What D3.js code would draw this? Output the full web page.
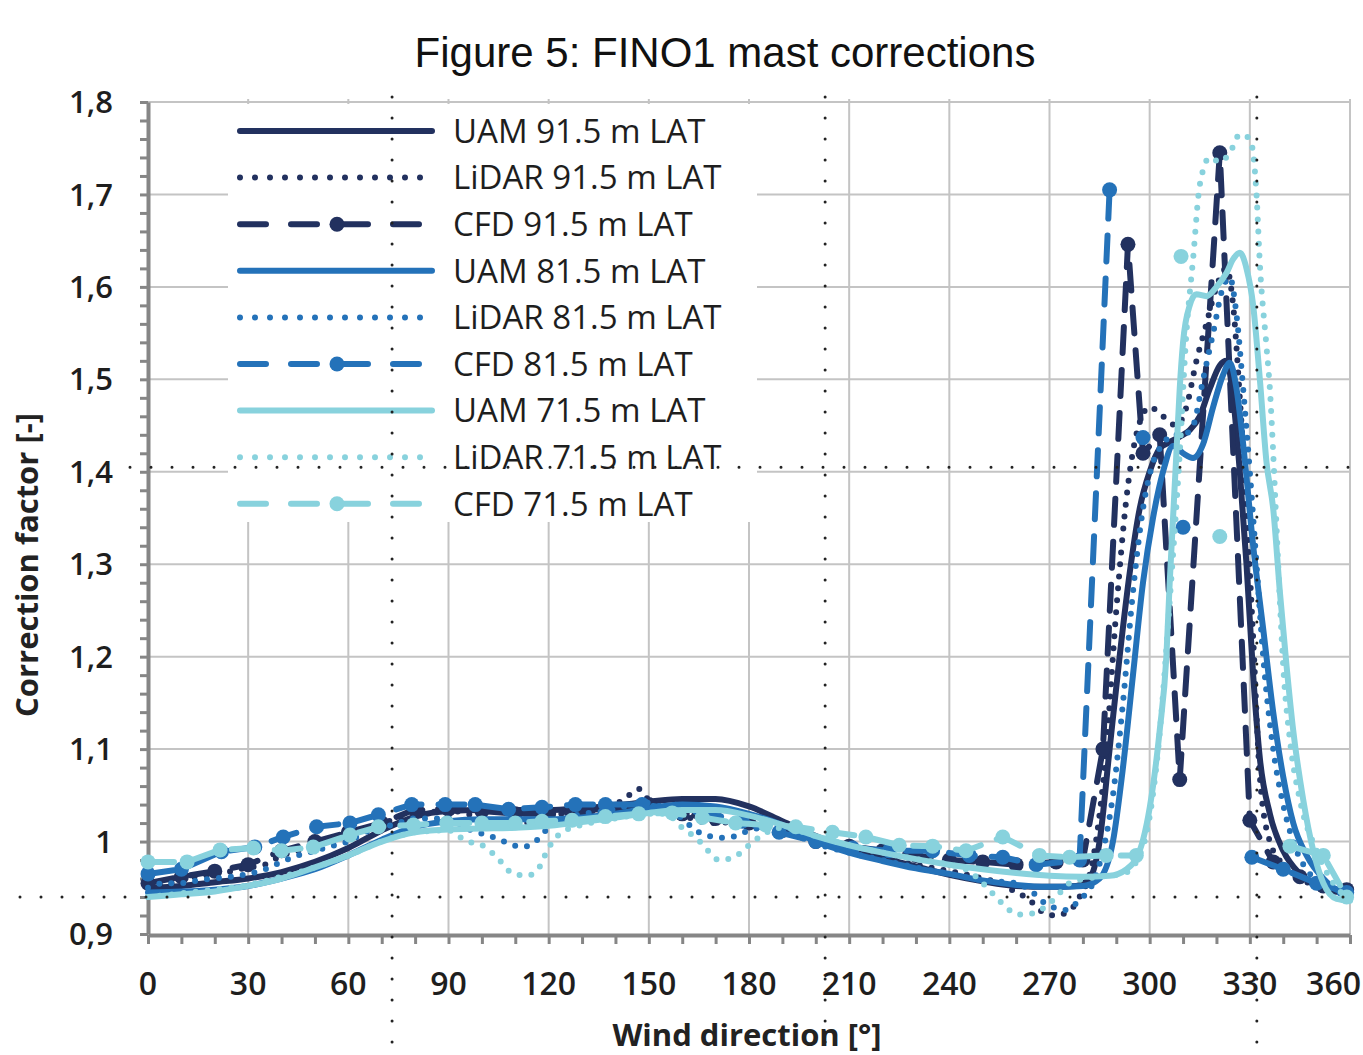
<!DOCTYPE html>
<html>
<head>
<meta charset="utf-8">
<script src="https://cdn.jsdelivr.net/npm/d3@7"></script>
<style>
  body { margin: 0; background: #fff; }
  svg { display: block; }
</style>
</head>
<body>
<svg width="1363" height="1055"></svg>
<script>

// ---- data ----
const xTickValues = [0, 30, 60, 90, 120, 150, 180, 210, 240, 270, 300, 330, 360];
const yTickValues = [0.9, 1.0, 1.1, 1.2, 1.3, 1.4, 1.5, 1.6, 1.7, 1.8];
const yTickLabels = ['0,9', '1', '1,1', '1,2', '1,3', '1,4', '1,5', '1,6', '1,7', '1,8'];

const seriesNames = ['UAM 91.5 m LAT', 'LiDAR 91.5 m LAT', 'CFD 91.5 m LAT',
                     'UAM 81.5 m LAT', 'LiDAR 81.5 m LAT', 'CFD 81.5 m LAT',
                     'UAM 71.5 m LAT', 'LiDAR 71.5 m LAT', 'CFD 71.5 m LAT'];

const uam915 = [[0,0.95],[10,0.952],[20,0.956],[30,0.96],[40,0.967],[50,0.978],[60,0.993],[70,1.012],[80,1.027],[90,1.033],[100,1.034],[110,1.034],[120,1.034],[130,1.036],[140,1.039],[150,1.043],[160,1.046],[170,1.046],[180,1.038],[190,1.022],[200,1.006],[210,0.992],[220,0.982],[230,0.973],[240,0.964],[250,0.957],[260,0.952],[270,0.951],[278,0.952],[282,0.96],[285,1.0],[288,1.1],[291,1.2],[294,1.29],[297,1.36],[300,1.4],[303,1.425],[306,1.432],[309,1.438],[312,1.445],[315,1.46],[318,1.49],[321,1.515],[323,1.52],[325,1.48],[327,1.4],[329,1.3],[331,1.18],[333,1.09],[336,1.03],[340,0.99],[345,0.965],[350,0.952],[355,0.946],[360,0.945]];

const lidar915 = [[0,0.955],[5,0.953],[10,0.96],[15,0.962],[20,0.965],[25,0.968],[30,0.972],[35,0.975],[40,0.985],[45,0.99],[50,0.995],[55,1.0],[60,1.005],[65,1.012],[70,1.02],[75,1.025],[80,1.035],[85,1.032],[90,1.035],[95,1.03],[100,1.028],[105,1.02],[110,1.018],[115,1.022],[120,1.03],[125,1.03],[130,1.033],[135,1.035],[140,1.04],[144,1.05],[147,1.057],[150,1.045],[155,1.04],[160,1.03],[165,1.022],[170,1.02],[175,1.022],[180,1.028],[185,1.025],[190,1.015],[195,1.01],[200,1.0],[210,0.99],[220,0.982],[230,0.975],[240,0.968],[250,0.96],[255,0.955],[260,0.945],[264,0.937],[267,0.926],[271.5,0.92],[275.5,0.924],[279,0.94],[283,0.98],[287,1.1],[290,1.25],[293,1.37],[296,1.44],[300,1.47],[304,1.46],[308,1.45],[311,1.47],[314,1.52],[317,1.56],[320,1.6],[323,1.62],[325,1.58],[327,1.48],[329,1.36],[331,1.22],[333,1.07],[336,1.0],[340,0.975],[345,0.96],[350,0.952],[355,0.947],[360,0.945]];

const cfd915 = [[0,0.955],[10,0.962],[20,0.968],[30,0.975],[40,0.99],[50,1.0],[60,1.01],[70,1.02],[80,1.035],[90,1.035],[100,1.033],[110,1.03],[120,1.03],[130,1.032],[140,1.035],[150,1.04],[160,1.03],[170,1.025],[180,1.02],[190,1.012],[200,1.0],[210,0.995],[220,0.99],[230,0.985],[240,0.98],[250,0.978],[260,0.975],[272,0.978],[280,0.98],[286,1.1],[293.5,1.646],[298,1.42],[303,1.44],[309,1.067],[321,1.745],[330,1.023],[337,0.978],[345,0.962],[352,0.952],[359,0.948]];

const uam815 = [[0,0.945],[10,0.946],[20,0.948],[30,0.952],[40,0.96],[50,0.97],[60,0.985],[70,1.002],[80,1.016],[90,1.022],[100,1.024],[110,1.024],[120,1.024],[130,1.026],[140,1.03],[150,1.036],[160,1.04],[170,1.038],[180,1.03],[190,1.018],[200,1.0],[210,0.988],[220,0.979],[230,0.971],[240,0.965],[250,0.958],[260,0.953],[270,0.951],[280,0.952],[285,0.96],[289,1.0],[292,1.08],[295,1.18],[298,1.28],[301,1.35],[304,1.4],[307,1.428],[310,1.42],[313,1.415],[316,1.43],[319,1.47],[322,1.505],[324,1.518],[326,1.49],[328,1.43],[331,1.32],[334,1.23],[337,1.14],[340,1.07],[343,1.02],[347,0.985],[352,0.96],[356,0.948],[360,0.945]];

const lidar815 = [[0,0.95],[5,0.955],[10,0.955],[15,0.958],[20,0.96],[25,0.962],[30,0.965],[35,0.97],[40,0.978],[45,0.985],[50,0.99],[55,0.995],[60,1.0],[65,1.01],[70,1.015],[75,1.02],[80,1.025],[85,1.025],[90,1.025],[95,1.015],[99.5,1.009],[104,1.004],[108,0.998],[112,0.994],[116,1.0],[120,1.015],[125,1.025],[130,1.03],[135,1.032],[140,1.035],[145,1.04],[150,1.042],[155,1.035],[160,1.025],[164,1.012],[168,1.006],[172,1.004],[176,1.006],[180,1.012],[185,1.015],[190,1.012],[195,1.005],[200,0.998],[210,0.988],[220,0.98],[230,0.972],[240,0.965],[250,0.958],[260,0.955],[265,0.945],[268,0.935],[271,0.929],[275,0.926],[279,0.937],[283,0.955],[286,0.99],[289,1.05],[292,1.15],[295,1.27],[298,1.36],[301,1.41],[304,1.43],[307,1.44],[310,1.44],[313,1.45],[316,1.5],[319,1.55],[322,1.6],[324,1.61],[326,1.57],[328,1.49],[330,1.4],[332,1.3],[334,1.2],[337,1.1],[340,1.04],[344,0.99],[348,0.965],[353,0.95],[360,0.942]];

// null = no CFD value (break in the line)
const cfd815 = [[0,0.965],[10,0.97],[22,0.989],[32,0.994],[40.5,1.005],[50.5,1.016],[60.5,1.02],[69,1.029],[79,1.04],[89,1.04],[98,1.04],[108,1.035],[118,1.037],[128,1.04],[137,1.04],[148,1.04],[158,1.035],[168,1.03],[178,1.022],[189,1.01],[200,1.0],[211,0.993],[222,0.99],[235,0.99],[246,0.985],[256,0.983],[266,0.975],[279,0.98],[288,1.705],[293,null],[298,1.437],[304,null],[310,1.34],[320,null],[330.6,0.983],[340,0.97],[350,0.955],[359,0.945]];

const uam715 = [[0,0.94],[10,0.943],[20,0.946],[30,0.952],[40,0.96],[50,0.972],[60,0.985],[70,1.0],[80,1.01],[90,1.013],[100,1.014],[110,1.015],[120,1.017],[130,1.021],[140,1.026],[150,1.031],[160,1.034],[170,1.034],[180,1.028],[190,1.018],[200,1.006],[210,0.996],[220,0.988],[230,0.981],[240,0.975],[250,0.97],[260,0.966],[270,0.963],[280,0.962],[288,0.963],[293,0.97],[297,0.99],[301,1.06],[303,1.12],[305,1.2],[306,1.28],[307,1.35],[308,1.42],[309,1.49],[310,1.54],[312,1.58],[314,1.592],[317,1.59],[320,1.6],[323,1.615],[325,1.63],[327,1.637],[329,1.62],[331,1.58],[333,1.5],[335,1.41],[337,1.36],[339,1.27],[341,1.19],[343,1.12],[346,1.045],[349,0.99],[352,0.955],[356,0.938],[360,0.936]];

const lidar715 = [[0,0.94],[5,0.942],[10,0.944],[15,0.946],[20,0.948],[30,0.953],[40,0.962],[50,0.972],[60,0.985],[70,1.0],[80,1.01],[90,1.012],[95.5,1.0],[99.5,0.997],[103,0.988],[106,0.977],[109,0.966],[113.5,0.963],[117,0.971],[119,0.986],[121,0.999],[125,1.012],[130,1.018],[140,1.025],[150,1.03],[155,1.03],[160,1.015],[165,1.001],[168,0.989],[171,0.98],[175.5,0.983],[179,0.993],[182,1.002],[190,1.015],[200,1.006],[210,0.996],[220,0.988],[230,0.981],[240,0.975],[246,0.968],[250,0.955],[254,0.94],[257,0.929],[260.5,0.921],[264.7,0.922],[268.6,0.929],[272,0.94],[276,0.955],[285,0.962],[292,0.965],[297,0.985],[300,1.027],[303,1.117],[306,1.26],[309,1.42],[311,1.55],[313,1.63],[315,1.71],[318,1.74],[321,1.735],[324,1.745],[327,1.765],[330,1.76],[332,1.7],[333,1.625],[335,1.535],[336,1.49],[337,1.42],[338,1.34],[339,1.26],[340,1.19],[342,1.11],[345,1.045],[350,0.99],[355,0.955],[360,0.937]];

const cfd715 = [[0,0.978],[11.7,0.978],[21.6,0.991],[31.6,0.993],[40,0.99],[49.5,0.994],[60.5,1.007],[69,1.016],[79.5,1.018],[89.5,1.02],[100,1.02],[110,1.02],[118,1.022],[127,1.023],[137,1.027],[147,1.03],[157,1.031],[166,1.026],[176,1.02],[185,1.018],[194,1.016],[205,1.01],[215,1.005],[225,0.996],[235,0.995],[245,0.99],[256,1.005],[267,0.985],[276,0.983],[287,0.985],[296,0.985],[302,null],[309.4,1.633],[315,null],[321,1.33],[330,null],[342,0.995],[352,0.985],[359,0.94]];

// dotted guide lines drawn over the chart
const guideX = [73.1, 202.8, 332.1];
const guideY = [1.405, 0.94];

// ---- setup ----
const svg = d3.select('svg');
const width = +svg.attr('width');
const height = +svg.attr('height');

const navy = '#22315f', mid = '#2472b9', light = '#88d2dd';
const axisGrey = '#868686', gridGrey = '#c4c4c4';

const x = d3.scaleLinear().domain([0, 360]).range([148, 1350]);
const y = d3.scaleLinear().domain([0.9, 1.8]).range([934, 102]);

const series = [
    { name: seriesNames[0], data: uam915,   color: navy,  kind: 'solid' },
    { name: seriesNames[1], data: lidar915, color: navy,  kind: 'dot' },
    { name: seriesNames[2], data: cfd915,   color: navy,  kind: 'dash' },
    { name: seriesNames[3], data: uam815,   color: mid,   kind: 'solid' },
    { name: seriesNames[4], data: lidar815, color: mid,   kind: 'dot' },
    { name: seriesNames[5], data: cfd815,   color: mid,   kind: 'dash' },
    { name: seriesNames[6], data: uam715,   color: light, kind: 'solid' },
    { name: seriesNames[7], data: lidar715, color: light, kind: 'dot' },
    { name: seriesNames[8], data: cfd715,   color: light, kind: 'dash' }
];

const dashFor = { solid: null, dot: '0,12', dash: '26,17' };

// title
svg.append('text')
    .attr('x', 725).attr('y', 67)
    .attr('text-anchor', 'middle')
    .style('font-family', '"Liberation Sans", Arial, sans-serif')
    .style('font-size', '42px')
    .style('fill', '#111')
    .text('Figure 5: FINO1 mast corrections');

// grid
svg.append('g').selectAll('line')
    .data(yTickValues.slice(1))
    .enter().append('line')
    .attr('x1', x(0)).attr('x2', x(360))
    .attr('y1', d => y(d)).attr('y2', d => y(d))
    .attr('stroke', gridGrey).attr('stroke-width', 2);

svg.append('g').selectAll('line')
    .data(xTickValues.slice(1))
    .enter().append('line')
    .attr('x1', d => x(d)).attr('x2', d => x(d))
    .attr('y1', y(0.9)).attr('y2', y(1.8) - 3)
    .attr('stroke', gridGrey).attr('stroke-width', 2);

// legend box (white, hides grid behind)
const legend = svg.append('g');
legend.append('rect')
    .attr('x', 228).attr('y', 104)
    .attr('width', 529).attr('height', 418)
    .attr('fill', '#fff');

// axes
const yMinor = d3.range(0, 46).map(i => +(0.9 + i * 0.02).toFixed(2));
const xMinor = d3.range(0, 361, 10);

const yAxis = svg.append('g')
    .attr('transform', 'translate(' + x(0) + ',0)')
    .call(d3.axisLeft(y).tickValues(yMinor).tickSize(8).tickSizeOuter(0).tickFormat(''));

const xAxis = svg.append('g')
    .attr('transform', 'translate(0,' + (y(0.9) + 1) + ')')
    .call(d3.axisBottom(x).tickValues(xMinor).tickSize(9).tickSizeOuter(0).tickFormat(''));

[yAxis, xAxis].forEach(g => {
    g.select('.domain').attr('stroke', axisGrey).attr('stroke-width', 4);
    g.selectAll('.tick line').attr('stroke', axisGrey).attr('stroke-width', 3);
});

// tick labels
svg.append('g').selectAll('text')
    .data(yTickValues)
    .enter().append('text')
    .attr('x', 113).attr('y', d => y(d))
    .attr('dy', '0.36em')
    .attr('text-anchor', 'end')
    .style('font-family', '"Open Sans", sans-serif')
    .style('font-size', '31px')
    .style('font-weight', 600)
    .style('fill', '#1e1e1e')
    .text((d, i) => yTickLabels[i]);

// last label sits against the page edge, so keep it inside
svg.append('g').selectAll('text')
    .data(xTickValues)
    .enter().append('text')
    .attr('x', d => d === 360 ? width - 2 : x(d)).attr('y', 995)
    .attr('text-anchor', d => d === 360 ? 'end' : 'middle')
    .style('font-family', '"Open Sans", sans-serif')
    .style('font-size', '32px')
    .style('font-weight', 600)
    .style('fill', '#1e1e1e')
    .text(d => d);

// axis titles
svg.append('text')
    .attr('x', 747).attr('y', 1046)
    .attr('text-anchor', 'middle')
    .style('font-family', '"Open Sans", sans-serif')
    .style('font-size', '31px')
    .style('font-weight', 700)
    .style('fill', '#222')
    .text('Wind direction [°]');

svg.append('text')
    .attr('transform', 'translate(38,565) rotate(-90)')
    .attr('text-anchor', 'middle')
    .style('font-family', '"Open Sans", sans-serif')
    .style('font-size', '31px')
    .style('font-weight', 700)
    .style('fill', '#222')
    .text('Correction factor [-]');

// series
const smooth = d3.line().x(d => x(d[0])).y(d => y(d[1])).curve(d3.curveMonotoneX);
const straight = d3.line()
    .defined(d => d[1] != null)
    .x(d => x(d[0])).y(d => y(d[1]));

const plot = svg.append('g');
series.forEach(s => {
    plot.append('path')
        .datum(s.data)
        .attr('d', s.kind === 'dash' ? straight : smooth)
        .attr('fill', 'none')
        .attr('stroke', s.color)
        .attr('stroke-width', 6)
        .attr('stroke-linecap', 'round')
        .attr('stroke-linejoin', 'round')
        .attr('stroke-dasharray', dashFor[s.kind]);

    if (s.kind === 'dash') {
        plot.append('g').selectAll('circle')
            .data(s.data.filter(d => d[1] != null))
            .enter().append('circle')
            .attr('cx', d => x(d[0])).attr('cy', d => y(d[1]))
            .attr('r', 7.5)
            .attr('fill', s.color);
    }
});

// legend entries
const row = legend.selectAll('g.row')
    .data(series)
    .enter().append('g')
    .attr('class', 'row')
    .attr('transform', (d, i) => 'translate(0,' + (131 + i * 46.6) + ')');

row.append('line')
    .attr('x1', 240).attr('x2', d => d.kind === 'dot' ? 424 : 432)
    .attr('y1', 0).attr('y2', 0)
    .attr('stroke', d => d.color)
    .attr('stroke-width', 6)
    .attr('stroke-linecap', 'round')
    .attr('stroke-dasharray', d => d.kind === 'dot' ? '0,15' : d.kind === 'dash' ? '26,25' : null);

row.filter(d => d.kind === 'dash').append('circle')
    .attr('cx', 337).attr('cy', 0).attr('r', 7.5)
    .attr('fill', d => d.color);

row.append('text')
    .attr('x', 453).attr('y', 0).attr('dy', '0.36em')
    .style('font-family', '"Open Sans", sans-serif')
    .style('font-size', '33px')
    .style('fill', '#1e1e1e')
    .text(d => d.name);

// dotted guides on top
const guides = svg.append('g')
    .attr('stroke', '#222')
    .attr('stroke-width', 3)
    .attr('stroke-linecap', 'round')
    .attr('stroke-dasharray', '0,21');

guides.selectAll('line.v')
    .data(guideX)
    .enter().append('line')
    .attr('class', 'v')
    .attr('x1', d => x(d)).attr('x2', d => x(d))
    .attr('y1', 97).attr('y2', height);

guides.selectAll('line.h')
    .data(guideY)
    .enter().append('line')
    .attr('class', 'h')
    .attr('x1', (d, i) => i ? 20 : 130).attr('x2', width)
    .attr('y1', d => y(d)).attr('y2', d => y(d));

</script>
</body>
</html>
